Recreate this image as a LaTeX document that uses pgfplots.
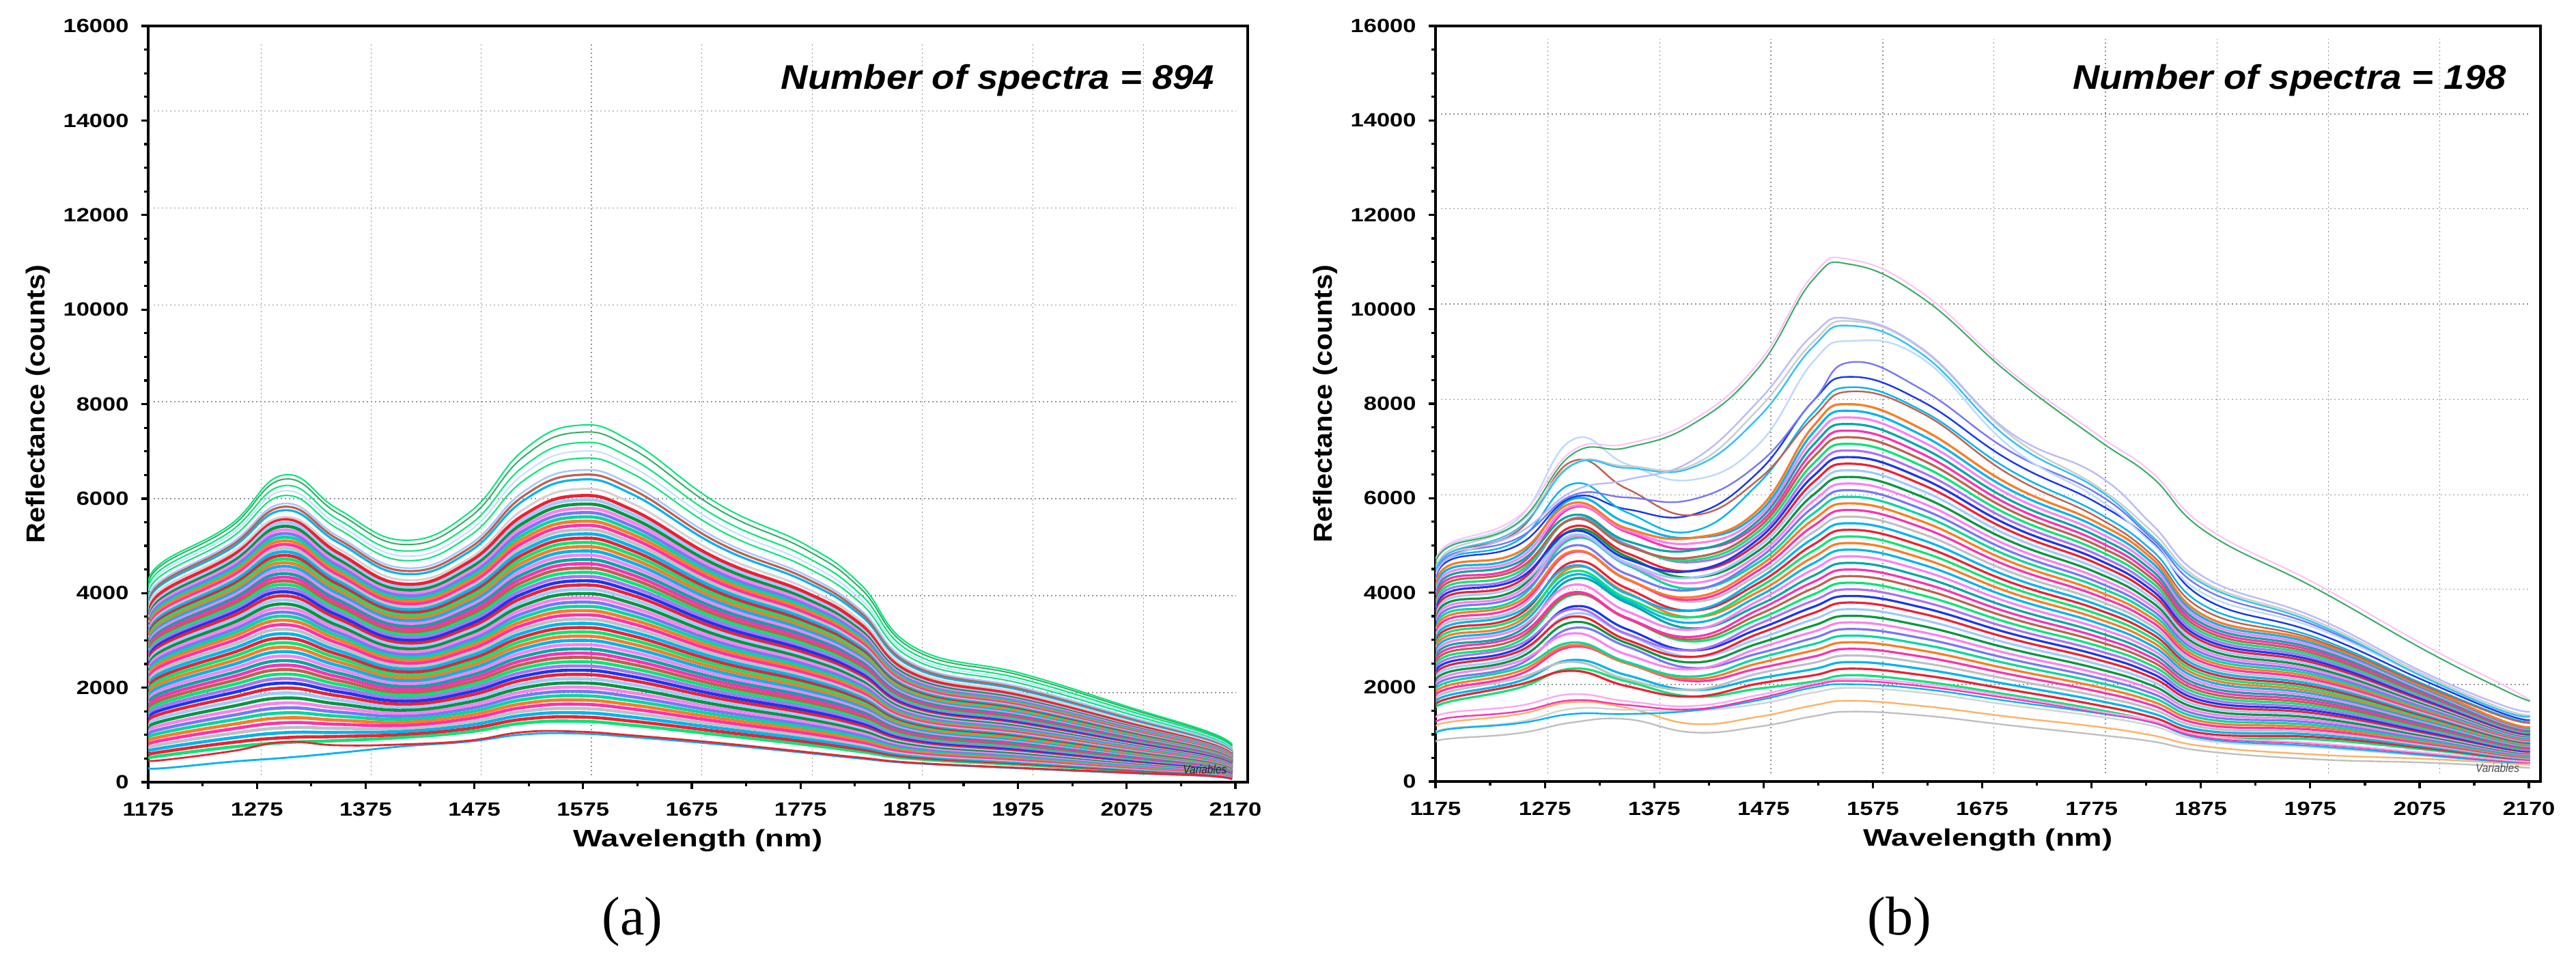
\documentclass[border=0pt]{standalone}
\usepackage{fontspec}
\setmainfont{Liberation Sans}
\newfontfamily\capfont{Liberation Serif}
\usepackage{graphicx}
\usepackage{pgfplots}
\usepackage{pgfplotstable}
\pgfplotsset{compat=1.18}

% one pixel of the reference is 0.25pt here
\definecolor{s1}{HTML}{00E676}\definecolor{s2}{HTML}{F02030}\definecolor{s3}{HTML}{1838F0}
\definecolor{s4}{HTML}{FF30B0}\definecolor{s5}{HTML}{00A8A0}\definecolor{s6}{HTML}{FF7A20}
\definecolor{s7}{HTML}{B070F8}\definecolor{s8}{HTML}{C0C0C0}\definecolor{s9}{HTML}{00B4EE}
\definecolor{s10}{HTML}{00983C}\definecolor{s11}{HTML}{FF80F0}\definecolor{s12}{HTML}{A0C8FF}
\definecolor{s13}{HTML}{C06050}\definecolor{s14}{HTML}{00D8A0}\definecolor{s15}{HTML}{7878F4}

\newcommand{\tl}[1]{\scalebox{1.23}[1]{#1}}

% wavelength, then one column per spectrum
\pgfplotstableread[header=false]{
1175 509 576 643 710 777 844 911 978 1045 1112 1179 1246 1313 1373 1433 1493 1553 1613 1673 1733 1793 1853 1913 1973 2033 2093 2153 2206 2259 2312 2365 2418 2471 2524 2569 2614 2659 2704 2749 2794 2839 2884 2929 2974 3019 3064 3109 3154 3199 3244 3289 3334 3379 3424 330 480 3494 3577 3620 3660 3756 3813 3875 3951 4000
1185 552 632 712 792 872 952 1032 1112 1192 1272 1352 1432 1512 1583 1654 1725 1796 1867 1938 2009 2080 2151 2222 2293 2364 2435 2506 2568 2630 2692 2754 2816 2878 2940 2992 3044 3096 3148 3200 3252 3304 3356 3408 3460 3512 3564 3616 3668 3720 3772 3824 3876 3928 3980 290 460 4049 4141 4189 4232 4338 4400 4467 4548 4600
1250 740 835 930 1025 1120 1215 1310 1405 1500 1595 1690 1785 1880 1964 2048 2132 2216 2300 2384 2468 2552 2636 2720 2804 2888 2972 3056 3129 3202 3275 3348 3421 3494 3567 3627 3687 3747 3807 3867 3927 3987 4047 4107 4167 4227 4287 4347 4407 4467 4527 4587 4647 4707 4767 430 650 4829 4932 4986 5035 5152 5222 5295 5384 5440
1300 837 942 1047 1152 1257 1362 1467 1572 1677 1782 1887 1992 2097 2192 2287 2382 2477 2572 2667 2762 2857 2952 3047 3142 3237 3332 3427 3513 3599 3685 3771 3857 3943 4029 4106 4183 4260 4337 4414 4491 4568 4645 4722 4799 4876 4953 5030 5107 5184 5261 5338 5415 5492 5569 515 850 5611 5754 5828 5896 6065 6164 6275 6411 6500
1350 881 967 1053 1139 1225 1311 1397 1483 1569 1655 1741 1827 1913 1992 2071 2150 2229 2308 2387 2466 2545 2624 2703 2782 2861 2940 3019 3092 3165 3238 3311 3384 3457 3530 3596 3662 3728 3794 3860 3926 3992 4058 4124 4190 4256 4322 4388 4454 4520 4586 4652 4718 4784 4850 620 780 4937 5067 5135 5198 5356 5449 5553 5684 5770
1410 949 1013 1077 1141 1205 1269 1333 1397 1461 1525 1589 1653 1717 1779 1841 1903 1965 2027 2089 2151 2213 2275 2337 2399 2461 2523 2585 2646 2707 2768 2829 2890 2951 3012 3071 3130 3189 3248 3307 3366 3425 3484 3543 3602 3661 3720 3779 3838 3897 3956 4015 4074 4133 4192 760 800 4279 4406 4472 4533 4691 4785 4892 5029 5120
1470 1066 1136 1206 1276 1346 1416 1486 1556 1626 1696 1766 1836 1906 1975 2044 2113 2182 2251 2320 2389 2458 2527 2596 2665 2734 2803 2872 2939 3006 3073 3140 3207 3274 3341 3407 3473 3539 3605 3671 3737 3803 3869 3935 4001 4067 4133 4199 4265 4331 4397 4463 4529 4595 4661 860 880 4730 4873 4946 5018 5202 5308 5434 5589 5700
1520 1250 1333 1416 1499 1582 1665 1748 1831 1914 1997 2080 2163 2246 2329 2412 2495 2578 2661 2744 2827 2910 2993 3076 3159 3242 3325 3408 3491 3574 3657 3740 3823 3906 3989 4072 4155 4238 4321 4404 4487 4570 4653 4736 4819 4902 4985 5068 5151 5234 5317 5400 5483 5566 5649 1010 1060 5770 5956 6052 6143 6377 6515 6677 6882 7020
1570 1290 1380 1470 1560 1650 1740 1830 1920 2010 2100 2190 2280 2370 2460 2550 2640 2730 2820 2910 3000 3090 3180 3270 3360 3450 3540 3630 3720 3810 3900 3990 4080 4170 4260 4350 4440 4530 4620 4710 4800 4890 4980 5070 5160 5250 5340 5430 5520 5610 5700 5790 5880 5970 6060 1030 1070 6200 6400 6500 6600 6850 7000 7180 7400 7550
1620 1205 1291 1377 1463 1549 1635 1721 1807 1893 1979 2065 2151 2237 2323 2409 2495 2581 2667 2753 2839 2925 3011 3097 3183 3269 3355 3441 3527 3613 3699 3785 3871 3957 4043 4129 4215 4301 4387 4473 4559 4645 4731 4817 4903 4989 5075 5161 5247 5333 5419 5505 5591 5677 5763 955 990 5901 6095 6195 6288 6532 6675 6844 7056 7200
1700 1003 1073 1143 1213 1283 1353 1423 1493 1563 1633 1703 1773 1843 1913 1983 2053 2123 2193 2263 2333 2403 2473 2543 2613 2683 2753 2823 2893 2963 3033 3103 3173 3243 3313 3383 3453 3523 3593 3663 3733 3803 3873 3943 4013 4083 4153 4223 4293 4363 4433 4503 4573 4643 4713 800 830 4823 4981 5062 5138 5336 5453 5590 5763 5880
1780 796 857 917 978 1039 1100 1160 1221 1282 1342 1403 1464 1524 1585 1646 1707 1767 1828 1889 1949 2010 2071 2131 2192 2253 2314 2374 2435 2496 2556 2617 2678 2738 2799 2860 2921 2981 3042 3103 3163 3224 3285 3345 3406 3467 3528 3588 3649 3710 3770 3831 3892 3952 4013 620 640 4105 4241 4312 4378 4549 4650 4769 4919 5020
1830 648 699 750 801 852 903 954 1005 1056 1107 1158 1209 1260 1311 1362 1413 1464 1515 1566 1617 1668 1719 1770 1821 1872 1923 1974 2025 2076 2127 2178 2229 2280 2331 2382 2433 2484 2535 2586 2637 2688 2739 2790 2841 2892 2943 2994 3045 3096 3147 3198 3249 3300 3351 500 520 3422 3537 3596 3651 3795 3880 3980 4105 4190
1880 498 532 566 599 633 667 701 735 768 802 836 870 904 937 971 1005 1039 1073 1106 1140 1174 1208 1242 1275 1309 1343 1377 1411 1444 1478 1512 1546 1580 1613 1647 1681 1715 1749 1782 1816 1850 1884 1918 1951 1985 2019 2053 2087 2120 2154 2188 2222 2256 2289 400 410 2340 2416 2456 2492 2588 2644 2710 2794 2850
1980 370 398 425 453 480 508 536 563 591 618 646 674 701 729 756 784 812 839 867 894 922 950 977 1005 1032 1060 1088 1115 1143 1170 1198 1226 1253 1281 1308 1336 1364 1391 1419 1446 1474 1502 1529 1557 1584 1612 1640 1667 1695 1722 1750 1778 1805 1833 290 300 1874 1936 1968 1998 2076 2122 2176 2244 2290
2080 245 264 283 302 321 340 359 378 397 416 435 454 473 492 511 530 549 568 587 606 625 644 663 682 701 720 739 758 777 796 815 834 853 872 891 910 929 948 967 986 1005 1024 1043 1062 1081 1100 1119 1138 1157 1176 1195 1214 1233 1252 190 200 1283 1326 1348 1369 1422 1454 1491 1538 1570
2150 168 181 194 207 220 233 246 259 272 285 298 311 324 337 350 363 376 389 402 415 428 441 454 467 480 493 506 519 532 545 558 571 584 597 610 623 636 649 662 675 688 701 714 727 740 753 766 779 792 805 818 831 844 857 130 135 874 904 919 933 969 991 1016 1048 1070
2172 90 100 110 121 131 141 151 161 172 182 192 202 212 223 233 243 253 263 274 284 294 304 314 325 335 345 355 365 376 386 396 406 416 427 437 447 457 467 478 488 498 508 518 529 539 549 559 569 580 590 600 610 620 631 60 70 646 669 681 692 721 738 758 783 800
}\speca

\pgfplotstableread[header=false]{
1175 1500 1556 1612 1668 1724 1780 1836 1892 1948 2004 2060 2116 2172 2228 2284 2340 2396 2452 2508 2564 2620 2676 2732 2788 2844 2900 2956 3012 3068 3124 3180 3236 3292 3348 3404 3460 3516 3572 3628 3684 3740 3796 810 1120 1000 950 1180 1280 3900 3950 4050 4000 4280 4150 4100 4000 4400 4350
1185 1675 1745 1815 1885 1955 2025 2095 2165 2235 2305 2375 2445 2515 2585 2655 2725 2795 2865 2935 3005 3075 3145 3215 3285 3355 3425 3495 3565 3635 3705 3775 3845 3915 3985 4055 4125 4195 4265 4335 4405 4475 4545 900 1250 1120 1100 1340 1450 4650 4700 4800 4750 4960 4850 4800 4700 5000 4940
1250 1975 2045 2115 2185 2255 2325 2395 2465 2535 2605 2675 2745 2815 2885 2955 3025 3095 3165 3235 3305 3375 3445 3515 3585 3655 3725 3795 3865 3935 4005 4075 4145 4215 4285 4355 4425 4495 4565 4635 4705 4775 4845 1020 1420 1260 1230 1480 1600 5000 5100 5300 5150 5550 5450 5350 5250 5600 5475
1300 2390 2345 2574 2534 2853 2888 2943 3247 3137 3371 3551 3491 3705 3650 3949 3969 4004 4288 4163 4372 4532 4452 4646 4571 4855 4855 4875 5139 4994 5183 5323 5218 5397 5302 5566 5551 5551 5800 5640 5829 5979 5894 1250 1680 1540 1430 1720 1850 6015 6300 6780 6056 7234 6720 6700 6140 7000 6930
1350 2120 2020 2251 2163 2502 2505 2532 2859 2689 2932 3110 3000 3226 3128 3457 3450 3467 3784 3604 3832 4000 3880 4091 3978 4297 4280 4282 4584 4394 4612 4765 4635 4836 4713 5022 4995 4987 5284 5094 5317 5480 5360 1320 1560 1520 1430 1620 1700 5766 5700 6200 6015 6720 6680 6640 6390 7150 7070
1410 1800 1799 1938 1942 2126 2170 2224 2403 2377 2521 2640 2639 2778 2782 2966 3010 3064 3243 3217 3361 3480 3479 3618 3622 3806 3850 3904 4083 4057 4201 4320 4319 4458 4462 4646 4690 4744 4923 4897 5041 5160 5159 1040 1220 1500 1500 1530 1600 5650 5300 5640 5973 6390 6700 6650 6800 7650 7565
1470 1965 2072 2180 2287 2395 2502 2609 2712 2819 2922 3024 3126 3229 3331 3434 3531 3633 3731 3823 3921 4013 4105 4198 4285 4378 4465 4547 4635 4717 4800 4882 4964 5047 5129 5207 5289 5366 5444 5521 5599 5676 5753 1160 1370 1640 1720 1760 1830 6550 6300 6390 6720 7130 7880 7700 8050 8850 8750
1520 2115 2247 2378 2510 2641 2773 2905 3036 3168 3299 3431 3563 3694 3826 3957 4089 4221 4352 4484 4615 4747 4879 5010 5142 5273 5405 5537 5668 5800 5931 6063 6195 6326 6458 6589 6721 6853 6984 7116 7247 7379 7511 1380 1610 1880 1990 2040 2080 8050 7800 7700 8050 8880 9300 9200 9460 10720 10620
1555 2250 2390 2530 2670 2810 2950 3090 3230 3370 3510 3650 3790 3930 4070 4210 4350 4490 4630 4770 4910 5050 5190 5330 5470 5610 5750 5890 6030 6170 6310 6450 6590 6730 6870 7010 7150 7290 7430 7570 7710 7850 7990 1480 1710 1980 2060 2130 2170 8570 8350 8260 8880 9330 9750 9650 9800 11050 10950
1620 2122 2253 2383 2513 2643 2774 2904 3034 3164 3294 3425 3555 3685 3815 3945 4076 4206 4336 4466 4596 4727 4857 4987 5117 5247 5378 5508 5638 5768 5898 6029 6159 6289 6419 6549 6680 6810 6940 7070 7200 7331 7461 1400 1600 1880 1960 2020 2070 8050 7850 7800 8300 8960 9150 9050 9170 10350 10245
1700 1836 1945 2053 2162 2271 2379 2488 2596 2705 2814 2922 3031 3140 3248 3357 3466 3574 3683 3791 3900 4009 4117 4226 4335 4443 4552 4661 4769 4878 4986 5095 5204 5312 5421 5530 5638 5747 5856 5964 6073 6182 6290 1190 1370 1620 1700 1760 1800 6800 6600 6500 7000 7100 7350 7250 7400 8700 8630
1780 1523 1619 1716 1812 1909 2006 2102 2199 2295 2392 2489 2585 2682 2778 2875 2972 3068 3165 3261 3358 3455 3551 3648 3744 3841 3938 4034 4131 4227 4324 4421 4517 4614 4710 4807 4904 5000 5097 5193 5290 5387 5483 990 1160 1380 1450 1470 1490 5900 5700 5600 6100 6000 6250 6200 6500 7350 7250
1830 1280 1364 1448 1532 1616 1700 1784 1868 1952 2036 2120 2204 2288 2372 2456 2540 2624 2708 2792 2876 2960 3044 3128 3212 3296 3380 3464 3548 3632 3716 3800 3884 3968 4052 4136 4220 4304 4388 4472 4556 4640 4724 850 980 1180 1250 1260 1290 5080 4900 4800 5150 5050 5300 5200 5450 6550 6450
1880 949 1011 1073 1135 1197 1259 1321 1383 1445 1507 1569 1631 1693 1755 1817 1879 1941 2003 2065 2127 2189 2251 2313 2375 2437 2499 2561 2623 2685 2747 2809 2871 2933 2995 3057 3119 3181 3243 3305 3367 3429 3491 640 740 860 900 930 960 3850 3700 3600 4050 3950 4200 4150 4300 5380 5280
1980 890 940 991 1041 1092 1142 1192 1243 1293 1344 1394 1444 1495 1545 1596 1646 1696 1747 1797 1848 1898 1948 1999 2049 2100 2150 2200 2251 2301 2352 2402 2452 2503 2553 2604 2654 2704 2755 2805 2856 2906 2956 470 570 720 750 790 810 3150 3050 3000 3300 3250 3400 3350 3470 4190 4090
2080 678 710 742 774 806 838 870 902 934 966 998 1030 1062 1094 1126 1158 1190 1222 1254 1286 1318 1350 1382 1414 1446 1478 1510 1542 1574 1606 1638 1670 1702 1734 1766 1798 1830 1862 1894 1926 1958 1990 400 480 540 560 590 610 2130 2050 2020 2200 2200 2250 2200 2300 2880 2780
2150 490 510 529 549 568 588 608 627 647 666 686 706 725 745 764 784 804 823 843 862 882 902 921 941 960 980 1000 1019 1039 1058 1078 1098 1117 1137 1156 1176 1196 1215 1235 1254 1274 1294 320 390 410 420 440 460 1450 1400 1380 1500 1500 1550 1500 1620 2060 1960
2176 439 456 474 491 509 526 543 561 578 596 613 630 648 665 683 700 717 735 752 770 787 804 822 839 857 874 891 909 926 944 961 978 996 1013 1031 1048 1065 1083 1100 1118 1135 1152 290 350 380 400 410 420 1300 1260 1240 1370 1360 1400 1380 1480 1720 1700
}\specb

\pgfplotsset{
  nirpanel/.style={
    scale only axis, anchor=south west,
    xmin=1175, ymin=0, ymax=16000,
    scaled x ticks=false, scaled y ticks=false,
    xtick={1175,1275,1375,1475,1575,1675,1775,1875,1975,2075,2175},
    xticklabels={\tl{1175},\tl{1275},\tl{1375},\tl{1475},\tl{1575},\tl{1675},\tl{1775},\tl{1875},\tl{1975},\tl{2075},\tl{2170}},
    ytick={0,2000,4000,6000,8000,10000,12000,14000,16000},
    yticklabels={\tl{0},\tl{2000},\tl{4000},\tl{6000},\tl{8000},\tl{10000},\tl{12000},\tl{14000},\tl{16000}},
    minor x tick num=1, minor y tick num=3,
    tick align=outside, tick pos=left,
    major tick length=2.4pt, minor tick length=1.4pt,
    tick style={black,line width=0.8pt},
    axis line style={line width=0.9pt},
    ticklabel style={font=\fontsize{7}{8}\selectfont\bfseries},
    xticklabel style={yshift=-1.5pt},
    yticklabel style={xshift=-1.2pt},
    xlabel={\scalebox{1.3}[1]{Wavelength (nm)}},
    ylabel={\scalebox{1.09}[1]{Reflectance (counts)}},
    every axis x label/.style={at={(axis description cs:0.5,-0.077)},anchor=center,font=\fontsize{8.75}{10}\selectfont\bfseries},
    every axis y label/.style={at={(axis description cs:-0.1,0.5)},rotate=90,anchor=center,font=\fontsize{9.5}{11}\selectfont\bfseries},
    no markers,
    cycle list={s1\\s2\\s9\\s8\\s4\\s6\\s14\\s15\\s11\\s10\\s12\\s2\\s3\\s7\\s1\\s13\\s4\\s5\\s11\\s9\\s6\\},
  },
  gridl/.style={color=black!42,line width=0.35pt,dash pattern=on 0.45pt off 1.05pt,forget plot},
  spec/.style={smooth,tension=0.75},
}

\begin{document}
\begin{tikzpicture}
\useasboundingbox (0,0) rectangle (943pt,-349.25pt);

\begin{axis}[nirpanel,at={(54.25pt,-286.25pt)},width=402.5pt,height=276.75pt,xmax=2186.3]
  \pgfplotsinvokeforeach{1279,1380,1481.4,1582.7,1684.2,1785.7,1887,1988.8,2090.5}{
    \addplot[gridl] coordinates {(#1,145) (#1,15635)};}
  \pgfplotsinvokeforeach{14197,12146,10092,8049,6000,3945,1893}{
    \addplot[gridl] coordinates {(1180,#1) (2175,#1)};}
  \pgfplotsinvokeforeach{1,...,54}{
    \addplot+[line width=1.15pt,spec] table[x index=0,y index=#1]{\speca};}
  \addplot[color=s9,line width=0.7pt,spec] table[x index=0,y index=55]{\speca};
  \addplot[color=s2,line width=0.7pt,spec] table[x index=0,y index=56]{\speca};
  \addplot[color=s8!70,line width=0.8pt,spec] table[x index=0,y index=57]{\speca};
  \addplot[color=s9,line width=0.8pt,spec] table[x index=0,y index=58]{\speca};
  \addplot[color=s13,line width=0.8pt,spec] table[x index=0,y index=59]{\speca};
  \addplot[color=s12,line width=0.6pt,spec] table[x index=0,y index=60]{\speca};
  \addplot[color=s1,line width=0.5pt,spec] table[x index=0,y index=61]{\speca};
  \addplot[color=s12!60,line width=0.5pt,spec] table[x index=0,y index=62]{\speca};
  \addplot[color=s1,line width=0.5pt,spec] table[x index=0,y index=63]{\speca};
  \addplot[color=s10!80,line width=0.5pt,spec] table[x index=0,y index=64]{\speca};
  \addplot[color=s1,line width=0.5pt,spec] table[x index=0,y index=65]{\speca};
\end{axis}

\begin{axis}[nirpanel,at={(525.5pt,-286pt)},width=404.5pt,height=276.5pt,xmax=2185.6]
  \pgfplotsinvokeforeach{1277.8,1380.2,1481.7,1584.2,1685.7,1787.6,1890,1991.8,2093.5}{
    \addplot[gridl] coordinates {(#1,170) (#1,15720)};}
  \pgfplotsinvokeforeach{14135,12133,10115,8092,6069,4075,2056}{
    \addplot[gridl] coordinates {(1180,#1) (2175,#1)};}
  \pgfplotsinvokeforeach{1,...,42}{
    \addplot+[line width=0.8pt,spec] table[x index=0,y index=#1]{\specb};}
  \addplot[color=s8,line width=0.6pt,spec] table[x index=0,y index=43]{\specb};
  \addplot[color=orange!60,line width=0.6pt,spec] table[x index=0,y index=44]{\specb};
  \addplot[color=s8!70,line width=0.6pt,spec] table[x index=0,y index=45]{\specb};
  \addplot[color=s9,line width=0.6pt,spec] table[x index=0,y index=46]{\specb};
  \addplot[color=s4,line width=0.6pt,spec] table[x index=0,y index=47]{\specb};
  \addplot[color=s11!70,line width=0.6pt,spec] table[x index=0,y index=48]{\specb};
  \addplot[color=s3,line width=0.6pt,spec] table[x index=0,y index=49]{\specb};
  \addplot[color=s9,line width=0.6pt,spec] table[x index=0,y index=50]{\specb};
  \addplot[color=s13,line width=0.6pt,spec] table[x index=0,y index=51]{\specb};
  \addplot[color=s15,line width=0.6pt,spec] table[x index=0,y index=52]{\specb};
  \addplot[color=s12!70,line width=0.6pt,spec] table[x index=0,y index=53]{\specb};
  \addplot[color=s8!80,line width=0.6pt,spec] table[x index=0,y index=54]{\specb};
  \addplot[color=s9!80,line width=0.6pt,spec] table[x index=0,y index=55]{\specb};
  \addplot[color=s15!50,line width=0.6pt,spec] table[x index=0,y index=56]{\specb};
  \addplot[color=s11!50,line width=0.5pt,spec] table[x index=0,y index=57]{\specb};
  \addplot[color=s10!80,line width=0.5pt,spec] table[x index=0,y index=58]{\specb};
\end{axis}

\node[anchor=base,font=\fontsize{12.5}{14}\selectfont\bfseries\itshape] at (365.25pt,-32.5pt) {\scalebox{1.09}[1]{Number of spectra = 894}};
\node[anchor=base,font=\fontsize{12.5}{14}\selectfont\bfseries\itshape] at (838.1pt,-32.5pt) {\scalebox{1.09}[1]{Number of spectra = 198}};
\node[font=\fontsize{4.4}{5}\selectfont\itshape,text=black!85] at (441.1pt,-281.5pt) {\scalebox{0.88}[1]{Variables}};
\node[font=\fontsize{4.4}{5}\selectfont\itshape,text=black!70] at (914.25pt,-281pt) {\scalebox{0.88}[1]{Variables}};
\node[font=\fontsize{20}{22}\selectfont\capfont] at (231.5pt,-337.25pt) {(a)};
\node[font=\fontsize{20}{22}\selectfont\capfont] at (695.25pt,-337.25pt) {(b)};
\end{tikzpicture}
\end{document}
